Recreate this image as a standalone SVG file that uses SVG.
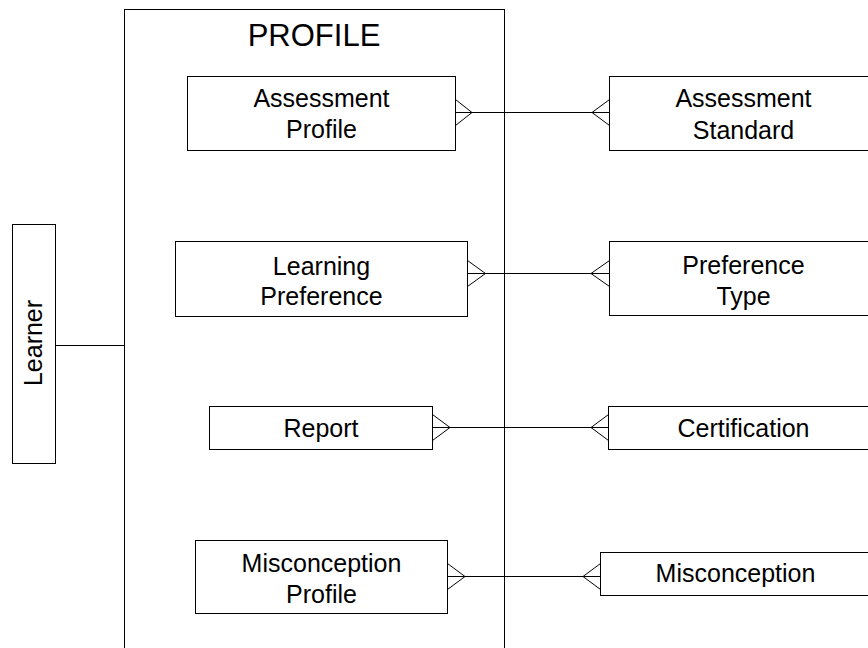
<svg xmlns="http://www.w3.org/2000/svg" width="868" height="648" viewBox="0 0 868 648">
  <style>
    .box { fill: #ffffff; stroke: #000000; stroke-width: 1; }
    .frame { fill: none; stroke: #000000; stroke-width: 1; }
    .link { fill: none; stroke: #000000; stroke-width: 1; }
    .label { font-family: "Liberation Sans", Arial, sans-serif; font-size: 25px; fill: #000000; text-anchor: middle; }
    .title { font-family: "Liberation Sans", Arial, sans-serif; font-size: 31px; fill: #000000; text-anchor: middle; }
  </style>
  <rect width="868" height="648" fill="#ffffff"/>

  <!-- PROFILE container -->
  <g id="profile">
    <rect class="frame" x="124.5" y="9.5" width="380" height="660"/>
    <text class="title" x="314" y="46">PROFILE</text>
  </g>

  <!-- connectors with crow's-foot ends -->
  <g id="connectors">
    <line class="link" x1="55.5" y1="345.5" x2="124.5" y2="345.5"/>

    <path class="link" d="M455.5 112.5 H609.5 M455.5 99.5 L472 112.5 L455.5 125.5 M609.5 99.5 L592 112.5 L609.5 125.5"/>
    <path class="link" d="M467.5 273.5 H609.5 M467.5 260.5 L485.5 273.5 L467.5 286.5 M609.5 260.5 L591 273.5 L609.5 286.5"/>
    <path class="link" d="M432.5 427.5 H608.5 M432.5 414.5 L450 427.5 L432.5 440.5 M608.5 414.5 L591 427.5 L608.5 440.5"/>
    <path class="link" d="M447.5 576.5 H600.5 M447.5 563.5 L465 576.5 L447.5 589.5 M600.5 563.5 L583 576.5 L600.5 589.5"/>
  </g>

  <g id="learner">
    <rect class="box" x="12.5" y="224.5" width="43" height="239"/>
    <text class="label" transform="translate(42 343) rotate(-90)" x="0" y="0">Learner</text>
  </g>

  <g id="assessment-profile">
    <rect class="box" x="187.5" y="76.5" width="268" height="74"/>
    <text class="label" x="321.5" y="107">Assessment</text>
    <text class="label" x="321.5" y="138">Profile</text>
  </g>

  <g id="assessment-standard">
    <rect class="box" x="609.5" y="76.5" width="269" height="74"/>
    <text class="label" x="743.5" y="107">Assessment</text>
    <text class="label" x="743.5" y="139">Standard</text>
  </g>

  <g id="learning-preference">
    <rect class="box" x="175.5" y="241.5" width="292" height="75"/>
    <text class="label" x="321.5" y="275">Learning</text>
    <text class="label" x="321.5" y="305">Preference</text>
  </g>

  <g id="preference-type">
    <rect class="box" x="609.5" y="241.5" width="269" height="74"/>
    <text class="label" x="743.5" y="274">Preference</text>
    <text class="label" x="743.5" y="305">Type</text>
  </g>

  <g id="report">
    <rect class="box" x="209.5" y="406.5" width="223" height="43"/>
    <text class="label" x="321" y="436.5">Report</text>
  </g>

  <g id="certification">
    <rect class="box" x="608.5" y="406.5" width="270" height="43"/>
    <text class="label" x="743.5" y="436.5">Certification</text>
  </g>

  <g id="misconception-profile">
    <rect class="box" x="195.5" y="540.5" width="252" height="73"/>
    <text class="label" x="321.5" y="572">Misconception</text>
    <text class="label" x="321.5" y="603">Profile</text>
  </g>

  <g id="misconception">
    <rect class="box" x="600.5" y="552.5" width="270" height="43"/>
    <text class="label" x="735.5" y="582">Misconception</text>
  </g>
</svg>
